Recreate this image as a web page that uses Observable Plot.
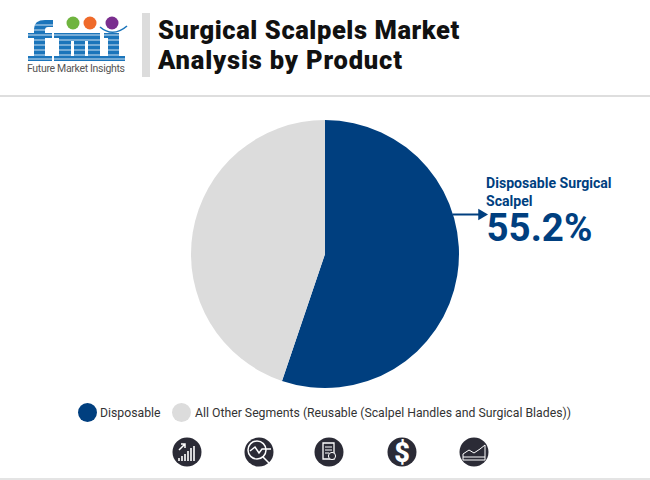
<!DOCTYPE html>
<html><head><meta charset="utf-8">
<script src="https://cdn.jsdelivr.net/npm/d3@7"></script>
<script src="https://cdn.jsdelivr.net/npm/@observablehq/plot@0.6"></script>
<style>
html,body{margin:0;padding:0;background:#fff;width:650px;height:480px;overflow:hidden;font-family:Roboto,sans-serif}
.abs{position:absolute}
#title{left:158px;top:15px;font-size:25.5px;line-height:30px;font-weight:900;color:#111;white-space:nowrap;letter-spacing:.58px}
#title span{letter-spacing:.82px}
#bar{left:142px;top:13px;width:8px;height:64px;background:#dcdcdc}
#rule{left:0;top:94.5px;width:650px;height:2px;background:#dedede}
#bottom{left:0;top:478px;width:650px;height:2px;background:#e4e4e4}
#chart{left:0;top:96px}
.lg{font-size:12.25px;color:#333;white-space:nowrap;top:404.5px;line-height:16px}
.sw{width:19px;height:19px;border-radius:50%;top:402.5px}
</style></head><body>
<div class="abs" id="logo"></div>
<div class="abs" id="bar"></div>
<div class="abs" id="title">Surgical Scalpels Market<br><span>Analysis by Product</span></div>
<div class="abs" id="rule"></div>
<div class="abs" id="chart"></div>
<div id="legend"></div>
<div class="abs" id="icons"></div>
<div class="abs" id="bottom"></div>
<script>
const categories = ["Disposable", "All Other Segments (Reusable (Scalpel Handles and Surgical Blades))"];
const shares = [55.2, 44.8];
const colors = ["#003f7f", "#dcdcdc"];
const calloutLines = ["Disposable Surgical", "Scalpel"];
const calloutValue = "55.2%";
const slices = categories.map((name, i) => ({name, share: shares[i], color: colors[i]}));

const W = 650, H = 299, cx = 325, cy = 158, R = 134;
const pie = d3.pie().value(d => d.share).sort(null)(slices);
const arc = d3.arc().innerRadius(0).outerRadius(R);

const pieMark = (index, {x, y}) => {
  const g = d3.create("svg:g").attr("transform", `translate(${x(cx)},${y(cy)})`);
  g.selectAll("path").data(pie).join("path").attr("d", arc).attr("fill", d => d.data.color);
  return g.node();
};

const plot = Plot.plot({
  width: W, height: H, margin: 0,
  x: {domain: [0, W], range: [0, W], axis: null},
  y: {domain: [0, H], range: [0, H], axis: null},
  style: {background: "transparent", fontFamily: "Roboto, sans-serif"},
  marks: [
    pieMark,
    Plot.link([0], {x1: () => 452, y1: () => 118, x2: () => 480, y2: () => 118, stroke: colors[0], strokeWidth: 2}),
    Plot.dot([0], {x: () => 481, y: () => 118, symbol: "triangle", r: 4.2, fill: colors[0], stroke: "none", rotate: 90}),
    Plot.text(calloutLines, {x: () => 485.5, y: (d, i) => 87 + i * 17.5, text: d => d, textAnchor: "start", fontSize: 14.1, fontWeight: 700, fill: colors[0]}),
    Plot.text([calloutValue], {x: () => 486, y: () => 132, text: d => d, textAnchor: "start", fontSize: 38.5, fontWeight: 700, fill: colors[0]})
  ]
});
document.getElementById("chart").append(plot);

// legend
const legend = d3.select("#legend");
[[78, 100], [172, 195]].forEach(([sw, tx], i) => {
  legend.append("div").attr("class", "abs sw").style("left", sw + "px").style("background", colors[i]);
  legend.append("div").attr("class", "abs lg").style("left", tx + "px").text(categories[i]);
});

// logo
const stripeYs = [25,30,35,40,45,50,55,59];
document.getElementById("logo").innerHTML = `
<svg width="140" height="90" style="position:absolute;left:0;top:0">
  <g fill="#1b75bb">
    <path d="M34 61V29Q34 20 45 20H53V27H48Q45 27 45 30V61Z"/>
    <path d="M28 33H52V38H28ZM28 56H52V61H28Z"/>
    <path d="M54 33H100V56H104V61H54V56H59V38H54Z"/>
    <path d="M71 56V41H74V56ZM85 56V41H88V56Z" fill="#fff"/>
    <path d="M104 33H119V56H125V61H103V56H108V38H104Z"/>
  </g>
  <g stroke="#fff" stroke-width=".8">
    ${stripeYs.map(y=>`<line x1="20" x2="132" y1="${y}" y2="${y}"/>`).join("")}
  </g>
  <circle cx="73" cy="23" r="6.5" fill="#6fb43f"/><circle cx="90" cy="23" r="6.5" fill="#ef6a2a"/><circle cx="112" cy="23" r="6.5" fill="#7a2e8e"/>
  <path d="M100 27 Q113 38 127 26" fill="none" stroke="#1b75bb" stroke-width="1.6"/>
  <text x="27" y="72" font-family="Roboto" font-size="10.5" fill="#555" textLength="98">Future Market Insights</text>
</svg>`;

// icons
const glyphs = [
 `<path d="M-8 9v-3M-5 9v-5M-2 9v-7M1 9v-10M4 9v-13M7 9v-15" stroke="#fff" stroke-width="1.6"/><path d="M-8-2 -2-8M-6-8h4v4" stroke="#fff" stroke-width="1.5" fill="none"/>`,
 `<circle cx="-2" cy="-2" r="9" fill="none" stroke="#fff" stroke-width="1.5"/><path d="M-9-1 -4-5 0 1 3-3H12M4 5 11 12" fill="none" stroke="#fff" stroke-width="1.5"/>`,
 `<path d="M-6-9H5V7H-6Z" fill="none" stroke="#fff" stroke-width="1.3"/><path d="M-4-5H3M-4-2H3M-4 1H0" stroke="#fff"/><circle cx="3" cy="4" r="3.6" fill="#2b2b36" stroke="#fff"/>`,
 `<text x="0" y="9.5" text-anchor="middle" font-family="Roboto" font-weight="900" font-size="27" fill="#fff">$</text>`,
 `<path d="M-11 8V2L-5-2 0 1 6-3 11-7V8Z" fill="none" stroke="#fff" stroke-width="1"/><path d="M-11 5H11" stroke="#fff" stroke-width="1"/>`
];
const iconX = [187, 259, 329, 402, 474];
document.getElementById("icons").innerHTML = `<svg width="650" height="40" style="position:absolute;left:0;top:432px">${
  iconX.map((x,i)=>`<g transform="translate(${x},20)"><circle r="14.5" fill="#2b2b36"/>${glyphs[i]}</g>`).join("")
}</svg>`;
</script>
</body></html>
